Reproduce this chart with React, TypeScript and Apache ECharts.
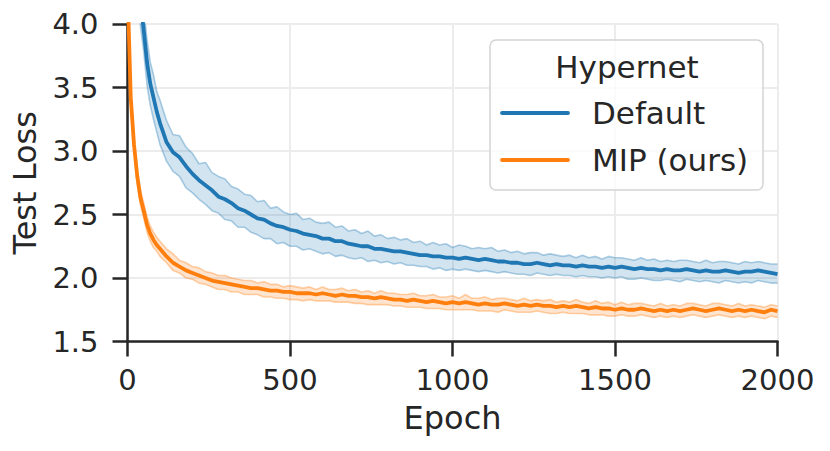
import React, { useEffect, useRef } from "react";
import * as echarts from "echarts";

const epochs = [
  0, 10, 20, 30, 40, 50, 60, 70, 80, 90, 100,
  120, 140, 160, 180, 200, 220, 240, 260, 280, 300,
  320, 340, 360, 380, 400, 420, 440, 460, 480, 500,
  520, 540, 560, 580, 600, 620, 640, 660, 680, 700,
  720, 740, 760, 780, 800, 820, 840, 860, 880, 900,
  920, 940, 960, 980, 1000, 1020, 1040, 1060, 1080, 1100,
  1120, 1140, 1160, 1180, 1200, 1220, 1240, 1260, 1280, 1300,
  1320, 1340, 1360, 1380, 1400, 1420, 1440, 1460, 1480, 1500,
  1520, 1540, 1560, 1580, 1600, 1620, 1640, 1660, 1680, 1700,
  1720, 1740, 1760, 1780, 1800, 1820, 1840, 1860, 1880, 1900,
  1920, 1940, 1960, 1980, 2000,
];

const defaultMean = [
  7.0, 5.8, 5.0, 4.5, 4.18, 3.95, 3.7, 3.53, 3.42, 3.31, 3.22,
  3.07, 2.99, 2.95, 2.88, 2.82, 2.77, 2.73, 2.69, 2.64, 2.62,
  2.59, 2.55, 2.53, 2.5, 2.47, 2.46, 2.43, 2.41, 2.4, 2.38,
  2.37, 2.35, 2.34, 2.33, 2.31, 2.31, 2.29, 2.29, 2.27, 2.26,
  2.25, 2.25, 2.23, 2.23, 2.22, 2.21, 2.21, 2.2, 2.19, 2.18,
  2.18, 2.17, 2.17, 2.16, 2.16, 2.15, 2.16, 2.15, 2.14, 2.15,
  2.14, 2.13, 2.13, 2.12, 2.12, 2.11, 2.11, 2.12, 2.11, 2.1,
  2.11, 2.1, 2.1, 2.09, 2.1, 2.09, 2.09, 2.08, 2.09, 2.08,
  2.09, 2.08, 2.07, 2.08, 2.07, 2.07, 2.06, 2.07, 2.06, 2.06,
  2.07, 2.06, 2.05, 2.06, 2.05, 2.05, 2.06, 2.05, 2.04, 2.05,
  2.05, 2.06, 2.05, 2.04, 2.03,
];

const defaultUpper = [
  7.3, 6.1, 5.25, 4.72, 4.38, 4.12, 3.88, 3.7, 3.6, 3.47, 3.4,
  3.24, 3.13, 3.12, 3.03, 2.98, 2.9, 2.91, 2.83, 2.8, 2.78,
  2.72, 2.7, 2.66, 2.65, 2.6, 2.61, 2.55, 2.56, 2.52, 2.5,
  2.51, 2.46, 2.47, 2.44, 2.43, 2.44, 2.4, 2.41, 2.37, 2.38,
  2.35, 2.37, 2.33, 2.34, 2.31, 2.32, 2.3, 2.31, 2.28, 2.29,
  2.26, 2.28, 2.26, 2.27, 2.24, 2.26, 2.25, 2.23, 2.24, 2.23,
  2.24, 2.21, 2.22, 2.2, 2.21, 2.19, 2.2, 2.2, 2.18, 2.19,
  2.18, 2.17, 2.18, 2.16, 2.18, 2.16, 2.17, 2.15, 2.17, 2.16,
  2.16, 2.15, 2.14, 2.16, 2.14, 2.15, 2.13, 2.14, 2.13, 2.14,
  2.14, 2.13, 2.12, 2.14, 2.12, 2.13, 2.13, 2.12, 2.11, 2.13,
  2.12, 2.13, 2.12, 2.11, 2.11,
];

const defaultLower = [
  6.7, 5.5, 4.75, 4.28, 3.98, 3.78, 3.52, 3.36, 3.25, 3.15, 3.05,
  2.92, 2.84, 2.8, 2.71, 2.67, 2.62, 2.58, 2.53, 2.51, 2.46,
  2.45, 2.4, 2.4, 2.36, 2.34, 2.31, 2.31, 2.27, 2.28, 2.25,
  2.25, 2.22, 2.23, 2.21, 2.19, 2.2, 2.17, 2.18, 2.16, 2.15,
  2.16, 2.13, 2.14, 2.12, 2.13, 2.11, 2.12, 2.1, 2.1, 2.09,
  2.09, 2.07, 2.08, 2.06, 2.07, 2.06, 2.07, 2.06, 2.05, 2.06,
  2.05, 2.04, 2.05, 2.04, 2.03, 2.03, 2.02, 2.04, 2.03, 2.02,
  2.03, 2.02, 2.02, 2.01, 2.02, 2.01, 2.01, 2.0, 2.01, 2.0,
  2.01, 1.99, 1.99, 2.0, 1.99, 1.98, 1.98, 1.99, 1.98, 1.97,
  1.99, 1.98, 1.97, 1.98, 1.97, 1.96, 1.98, 1.97, 1.96, 1.97,
  1.96, 1.98, 1.97, 1.96, 1.96,
];

const mipMean = [
  4.3, 3.42, 3.05, 2.8, 2.63, 2.53, 2.42, 2.35, 2.3, 2.26, 2.23,
  2.17, 2.12, 2.09, 2.06, 2.04, 2.02, 2.0, 1.98, 1.97, 1.96,
  1.95, 1.94, 1.93, 1.92, 1.92, 1.91, 1.9, 1.9, 1.89, 1.89,
  1.88, 1.88, 1.88, 1.87, 1.88, 1.87, 1.86, 1.87, 1.86, 1.86,
  1.85, 1.85, 1.84, 1.85, 1.84, 1.83, 1.83, 1.82, 1.83, 1.82,
  1.81, 1.82, 1.81, 1.8, 1.81, 1.8, 1.81, 1.8, 1.79, 1.8,
  1.79, 1.79, 1.8, 1.79, 1.78, 1.79, 1.78, 1.79, 1.78, 1.78,
  1.77, 1.78, 1.77, 1.78, 1.77, 1.76, 1.77, 1.76, 1.76, 1.75,
  1.76, 1.75, 1.75, 1.76, 1.75, 1.74, 1.75, 1.74, 1.75, 1.74,
  1.75, 1.76, 1.75, 1.74, 1.75, 1.76, 1.75, 1.74, 1.75, 1.74,
  1.75, 1.74, 1.73, 1.75, 1.74,
];

const mipUpper = [
  4.35, 3.48, 3.1, 2.86, 2.69, 2.59, 2.48, 2.41, 2.36, 2.32, 2.29,
  2.23, 2.19, 2.14, 2.12, 2.09, 2.08, 2.05, 2.04, 2.02, 2.02,
  2.0, 1.99, 1.98, 1.98, 1.96, 1.97, 1.95, 1.95, 1.93, 1.94,
  1.93, 1.92, 1.93, 1.91, 1.93, 1.91, 1.91, 1.92, 1.9, 1.91,
  1.89, 1.9, 1.88, 1.9, 1.88, 1.88, 1.87, 1.87, 1.88, 1.86,
  1.86, 1.87, 1.85, 1.85, 1.86, 1.84, 1.87, 1.84, 1.84, 1.85,
  1.83, 1.84, 1.84, 1.83, 1.82, 1.84, 1.82, 1.83, 1.82, 1.83,
  1.81, 1.82, 1.81, 1.83, 1.81, 1.8, 1.82, 1.8, 1.81, 1.79,
  1.81, 1.79, 1.8, 1.8, 1.79, 1.78, 1.8, 1.78, 1.79, 1.78,
  1.8, 1.8, 1.79, 1.78, 1.8, 1.8, 1.79, 1.78, 1.8, 1.78,
  1.79, 1.78, 1.77, 1.79, 1.78,
];

const mipLower = [
  4.25, 3.36, 3.0, 2.74, 2.57, 2.47, 2.36, 2.29, 2.24, 2.21, 2.17,
  2.12, 2.06, 2.04, 2.0, 1.99, 1.96, 1.95, 1.93, 1.91, 1.91,
  1.89, 1.89, 1.87, 1.87, 1.87, 1.85, 1.85, 1.84, 1.84, 1.83,
  1.83, 1.82, 1.83, 1.82, 1.82, 1.82, 1.81, 1.81, 1.81, 1.8,
  1.8, 1.79, 1.79, 1.79, 1.79, 1.78, 1.78, 1.77, 1.77, 1.77,
  1.76, 1.76, 1.76, 1.75, 1.75, 1.75, 1.75, 1.75, 1.74, 1.74,
  1.74, 1.73, 1.75, 1.74, 1.73, 1.73, 1.73, 1.74, 1.73, 1.72,
  1.72, 1.73, 1.72, 1.72, 1.72, 1.71, 1.71, 1.71, 1.7, 1.7,
  1.71, 1.7, 1.7, 1.71, 1.7, 1.69, 1.7, 1.69, 1.7, 1.69,
  1.7, 1.71, 1.7, 1.69, 1.7, 1.71, 1.7, 1.69, 1.7, 1.69,
  1.7, 1.69, 1.68, 1.7, 1.69,
];

const xTicks = { min: 0, max: 2000, interval: 500 };
const yTicks = { min: 1.5, max: 4.0, interval: 0.5 };
const legendTitle = "Hypernet";
const seriesNames = ["Default", "MIP (ours)"];

const BLUE = "#1f77b4";
const ORANGE = "#ff7f0e";
const INK = "#262626";
const FONT = "DejaVu Sans";

function pairs(vals: number[]) {
  return epochs.map((e, i) => [e, vals[i]]);
}

function bandSeries(name: string, up: number[], lo: number[], color: string, fill: string) {
  return [
    {
      type: "custom",
      name: name + "-band",
      coordinateSystem: "cartesian2d",
      clip: true,
      silent: true,
      z: 1,
      data: epochs.map((e, i) => [e, lo[i], up[i]]),
      encode: { x: 0, y: [1, 2] },
      renderItem: (params: any, api: any) => {
        if (params.dataIndex !== 0) return null;
        const pts: number[][] = [];
        for (let i = 0; i < epochs.length; i++) pts.push(api.coord([epochs[i], up[i]]));
        for (let i = epochs.length - 1; i >= 0; i--) pts.push(api.coord([epochs[i], lo[i]]));
        return {
          type: "polygon",
          shape: { points: pts },
          style: { fill, stroke: "none" },
        };
      },
    },
    {
      type: "line",
      name: name + "-loEdge",
      showSymbol: false,
      symbol: "none",
      silent: true,
      z: 2,
      data: pairs(lo),
      lineStyle: { color, width: 1.6, opacity: 0.35 },
    },
    {
      type: "line",
      name: name + "-upEdge",
      showSymbol: false,
      symbol: "none",
      silent: true,
      z: 2,
      data: pairs(up),
      lineStyle: { color, width: 1.6, opacity: 0.35 },
    },
  ];
}

export default function App() {
  const ref = useRef<HTMLDivElement>(null);
  useEffect(() => {
    if (!ref.current) return;
    const chart = echarts.init(ref.current, undefined, { renderer: "svg" });
    const legendX = 490;
    const legendY = 40;
    chart.setOption({
      animation: false,
      backgroundColor: "#ffffff",
      grid: { left: 127.5, right: 52.5, top: 24, bottom: 109.5, containLabel: false },
      xAxis: {
        type: "value",
        min: xTicks.min,
        max: xTicks.max,
        interval: xTicks.interval,
        name: "Epoch",
        nameLocation: "middle",
        nameGap: 60,
        nameTextStyle: { fontSize: 32, color: INK, fontFamily: FONT },
        axisLine: { show: true, lineStyle: { color: INK, width: 2.5 } },
        axisTick: { show: true, length: 15, lineStyle: { color: INK, width: 2.5 } },
        axisLabel: {
          fontSize: 29,
          color: INK,
          fontFamily: FONT,
          margin: 24,
          formatter: (v: number) => String(v),
        },
        splitLine: { show: true, lineStyle: { color: "#ececec", width: 2 } },
      },
      yAxis: {
        type: "value",
        min: yTicks.min,
        max: yTicks.max,
        interval: yTicks.interval,
        name: "Test Loss",
        nameLocation: "middle",
        nameGap: 80,
        nameTextStyle: { fontSize: 32, color: INK, fontFamily: FONT },
        axisLine: { show: true, lineStyle: { color: INK, width: 2.5 } },
        axisTick: { show: true, length: 15, lineStyle: { color: INK, width: 2.5 } },
        axisLabel: {
          fontSize: 29,
          color: INK,
          fontFamily: FONT,
          margin: 29,
          formatter: (v: number) => v.toFixed(1),
        },
        splitLine: { show: true, lineStyle: { color: "#ececec", width: 2 } },
      },
      series: [
        ...bandSeries("default", defaultUpper, defaultLower, BLUE, "rgba(31,119,180,0.2)"),
        ...bandSeries("mip", mipUpper, mipLower, ORANGE, "rgba(255,127,14,0.2)"),
        {
          type: "line",
          name: seriesNames[0],
          showSymbol: false,
          symbol: "none",
          z: 5,
          data: pairs(defaultMean),
          lineStyle: { color: BLUE, width: 3.8, join: "round" },
        },
        {
          type: "line",
          name: seriesNames[1],
          showSymbol: false,
          symbol: "none",
          z: 5,
          data: pairs(mipMean),
          lineStyle: { color: ORANGE, width: 3.8, join: "round" },
        },
      ],
      graphic: [
        {
          type: "rect",
          z: 100,
          shape: { x: legendX, y: legendY, width: 273, height: 150, r: 6 },
          style: { fill: "rgba(255,255,255,0.8)", stroke: "#d4d4d4", lineWidth: 1.5 },
        },
        {
          type: "text",
          z: 101,
          x: legendX + 137,
          y: legendY + 27,
          style: {
            text: legendTitle,
            fontSize: 31,
            fontFamily: FONT,
            fill: INK,
            align: "center",
            verticalAlign: "middle",
          },
        },
        {
          type: "line",
          z: 101,
          shape: { x1: legendX + 12, y1: legendY + 73, x2: legendX + 78, y2: legendY + 73 },
          style: { stroke: BLUE, lineWidth: 3.8, lineCap: "round" },
        },
        {
          type: "text",
          z: 101,
          x: legendX + 102,
          y: legendY + 73,
          style: {
            text: seriesNames[0],
            fontSize: 31,
            fontFamily: FONT,
            fill: INK,
            align: "left",
            verticalAlign: "middle",
          },
        },
        {
          type: "line",
          z: 101,
          shape: { x1: legendX + 12, y1: legendY + 120, x2: legendX + 78, y2: legendY + 120 },
          style: { stroke: ORANGE, lineWidth: 3.8, lineCap: "round" },
        },
        {
          type: "text",
          z: 101,
          x: legendX + 102,
          y: legendY + 120,
          style: {
            text: seriesNames[1],
            fontSize: 31,
            fontFamily: FONT,
            fill: INK,
            align: "left",
            verticalAlign: "middle",
          },
        },
      ],
    });
    return () => chart.dispose();
  }, []);
  return (
    <div
      ref={ref}
      style={{ position: "fixed", left: 0, top: 0, width: 830, height: 451, background: "#fff" }}
    />
  );
}
